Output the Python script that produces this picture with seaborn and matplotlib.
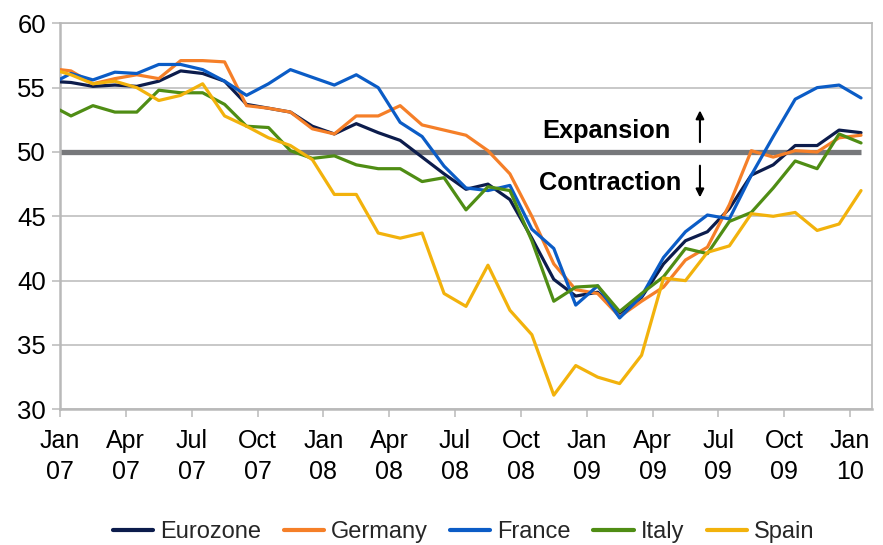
import numpy as np
import pandas as pd
import matplotlib
matplotlib.use("Agg")
import matplotlib.pyplot as plt
import seaborn as sns

# ---------------- data ----------------
months = ["Dec 06",
          "Jan 07", "Feb 07", "Mar 07", "Apr 07", "May 07", "Jun 07", "Jul 07", "Aug 07", "Sep 07", "Oct 07", "Nov 07", "Dec 07",
          "Jan 08", "Feb 08", "Mar 08", "Apr 08", "May 08", "Jun 08", "Jul 08", "Aug 08", "Sep 08", "Oct 08", "Nov 08", "Dec 08",
          "Jan 09", "Feb 09", "Mar 09", "Apr 09", "May 09", "Jun 09", "Jul 09", "Aug 09", "Sep 09", "Oct 09", "Nov 09", "Dec 09",
          "Jan 10"]

eurozone = [55.5, 55.4, 55.1, 55.2, 55.1, 55.5, 56.3, 56.1, 55.5, 53.7, 53.4, 53.1, 52.0,
            51.4, 52.2, 51.5, 50.9, 49.6, 48.3, 47.1, 47.5, 46.3, 43.3, 40.1, 38.8,
            39.1, 37.3, 38.7, 41.3, 43.1, 43.8, 45.6, 48.2, 49.0, 50.5, 50.5, 51.7, 51.5]
germany = [56.5, 56.3, 55.3, 55.7, 56.0, 55.7, 57.1, 57.1, 57.0, 53.6, 53.4, 53.1, 51.8,
           51.4, 52.8, 52.8, 53.6, 52.1, 51.7, 51.3, 50.1, 48.3, 45.0, 41.3, 39.3,
           39.0, 37.2, 38.4, 39.5, 41.6, 42.6, 45.9, 50.1, 49.6, 50.1, 50.0, 51.1, 51.3]
france = [55.2, 56.1, 55.6, 56.2, 56.1, 56.8, 56.8, 56.4, 55.5, 54.4, 55.3, 56.4, 55.8,
          55.2, 56.0, 55.0, 52.3, 51.2, 48.9, 47.2, 47.0, 47.4, 44.0, 42.5, 38.1,
          39.6, 37.1, 38.8, 41.8, 43.8, 45.1, 44.8, 48.2, 51.2, 54.1, 55.0, 55.2, 54.2]
italy = [53.7, 52.8, 53.6, 53.1, 53.1, 54.8, 54.6, 54.6, 53.7, 52.0, 51.9, 50.1, 49.5,
         49.7, 49.0, 48.7, 48.7, 47.7, 48.0, 45.5, 47.3, 47.0, 43.1, 38.4, 39.5,
         39.6, 37.6, 39.0, 40.3, 42.5, 42.1, 44.6, 45.3, 47.2, 49.3, 48.7, 51.4, 50.7]
spain = [56.5, 56.0, 55.3, 55.5, 55.0, 54.0, 54.4, 55.3, 52.8, 52.0, 51.1, 50.5, 49.4,
         46.7, 46.7, 43.7, 43.3, 43.7, 39.0, 38.0, 41.2, 37.7, 35.8, 31.1, 33.4,
         32.5, 32.0, 34.2, 40.2, 40.0, 42.2, 42.7, 45.2, 45.0, 45.3, 43.9, 44.4, 47.0]
threshold = [50.0] * len(months)

series_names = ["Eurozone", "Germany", "France", "Italy", "Spain"]
series_values = [eurozone, germany, france, italy, spain]
colors = {"Eurozone": "#0c1c4c", "Germany": "#f57f28", "France": "#0b5cc6",
          "Italy": "#4f8d14", "Spain": "#f2b20c"}

tick_months = ["Jan 07", "Apr 07", "Jul 07", "Oct 07", "Jan 08", "Apr 08", "Jul 08",
               "Oct 08", "Jan 09", "Apr 09", "Jul 09", "Oct 09", "Jan 10"]
yticks = [30, 35, 40, 45, 50, 55, 60]

# ---------------- build table ----------------
# each month's point sits mid-month; the axis starts at the start of Jan 07
pos = {m: i - 0.5 for i, m in enumerate(months)}
rows = []
for name, vals in zip(series_names, series_values):
    for m, v in zip(months, vals):
        rows.append({"month": m, "pos": pos[m], "value": v, "series": name})
df = pd.DataFrame(rows)

# ---------------- plot ----------------
sns.set_theme(style="white")
plt.rcParams["font.family"] = ["Liberation Sans", "DejaVu Sans"]

fig = plt.figure(figsize=(8.83, 5.45), dpi=100)
ax = fig.add_axes([60 / 883, 1 - 409.3 / 545, (872 - 60) / 883, (409.3 - 23.3) / 545])

grid_c = "#b9b9b9"
for y in yticks:
    if y != 50:
        ax.axhline(y, color=grid_c, lw=1.1, zorder=0)

ax.plot([pos[m] for m in months], threshold, color="#77787b", lw=3.8,
        solid_capstyle="butt", zorder=1)

sns.lineplot(data=df, x="pos", y="value", hue="series", hue_order=series_names,
             palette=colors, sort=False, linewidth=2.3, ax=ax, legend=True, zorder=3)

ax.set_xlim(0, 37)
ax.set_ylim(30, 60)
ax.set_yticks(yticks)
ax.set_yticklabels([str(y) for y in yticks], fontsize=18.5)
ax.set_xticks([pos[m] - 0.5 for m in tick_months])
ax.set_xticklabels([m.replace(" ", "\n") for m in tick_months], linespacing=1.4)
ax.set_xlabel("")
ax.set_ylabel("")

for side in ["left", "bottom", "right", "top"]:
    ax.spines[side].set_color(grid_c)
    ax.spines[side].set_linewidth(1.2)
ax.spines["left"].set_linewidth(1.8)
ax.spines["bottom"].set_linewidth(1.8)

ax.tick_params(axis="both", which="both", direction="out", length=6, width=1.1,
               color=grid_c, labelcolor="black")
ax.tick_params(axis="x", labelsize=18, pad=8)
ax.tick_params(axis="y", pad=4)
ax.tick_params(left=True, bottom=True)

# annotations
ax.text(24.9, 51.63, "Expansion", ha="center", va="center", fontsize=18.3,
        fontweight="bold", color="black")
ax.text(25.05, 47.6, "Contraction", ha="center", va="center", fontsize=18.3,
        fontweight="bold", color="black")
ax.annotate("", xy=(29.16, 53.45), xytext=(29.16, 50.55),
            arrowprops=dict(arrowstyle="-|>", color="black", lw=1.5, mutation_scale=12))
ax.annotate("", xy=(29.16, 46.25), xytext=(29.16, 49.15),
            arrowprops=dict(arrowstyle="-|>", color="black", lw=1.5, mutation_scale=12))

handles, labels = ax.get_legend_handles_labels()
ax.legend_.remove()
for h in handles:
    h.set_linewidth(3)
fig.legend(handles, labels, loc="center", bbox_to_anchor=(0.525, 1 - 532 / 545),
           ncol=5, frameon=False, fontsize=17, handlelength=1.7,
           handletextpad=0.3, columnspacing=0.95)

fig.savefig("out.png", dpi=100)
